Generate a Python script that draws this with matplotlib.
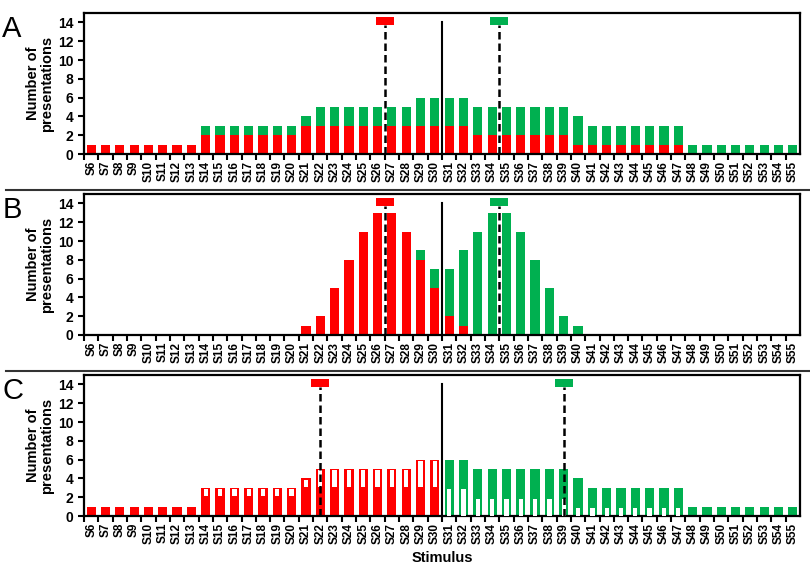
import matplotlib
matplotlib.use('Agg')
import matplotlib.pyplot as plt
from matplotlib.lines import Line2D
from matplotlib.ticker import FixedLocator

plt.rcParams['font.family'] = ['Liberation Sans', 'DejaVu Sans']

# stimulus numbers S6..S55
stimuli = list(range(6, 56))
labels = ['S%d' % s for s in stimuli]

# panel A: red (lower) and green (upper) counts per stimulus
a_red = [1] * 8 + [2] * 7 + [3] * 12 + [2] * 7 + [1] * 8 + [0] * 8
a_green = [0] * 8 + [1] * 7 + [1] + [2] * 7 + [3] * 4 + [3] * 7 + [3] + [2] * 7 + [1] * 8

# panel B
b_red = [0] * 15 + [1, 2, 5, 8, 11, 13, 13, 11, 8, 5, 2, 1] + [0] * 23
b_green = [0] * 23 + [1, 2, 5, 8, 11, 13, 13, 11, 8, 5, 2, 1] + [0] * 15

# panel C uses same counts as A, colored by side of boundary
c_lower = a_red
c_upper = a_green

# dashed markers (red, green) and solid boundary
markers = {'A': (26.5, 34.5), 'B': (26.5, 34.5), 'C': (22, 39)}
boundary = 30.5

RED = '#FF0000'
GREEN = '#00B050'
W = 0.64

fig = plt.figure(figsize=(8.1, 5.68), dpi=100)
left = 84 / 810
width = 716 / 810
bottoms = [1 - 154 / 568, 1 - 335 / 568, 1 - 516 / 568]
height = 141 / 568

axes = []
for i, name in enumerate(['A', 'B', 'C']):
    ax = fig.add_axes([left, bottoms[i], width, height])
    axes.append(ax)
    if name == 'A':
        ax.bar(stimuli, a_red, width=W, color=RED, zorder=2)
        ax.bar(stimuli, a_green, width=W, bottom=a_red, color=GREEN, zorder=2)
    elif name == 'B':
        ax.bar(stimuli, b_red, width=W, color=RED, zorder=2)
        ax.bar(stimuli, b_green, width=W, bottom=b_red, color=GREEN, zorder=2)
    else:
        for s, lo, up in zip(stimuli, c_lower, c_upper):
            if s <= 30:
                ax.bar(s, lo + up, width=W, color=RED, zorder=2)
                if up > 0:
                    ax.bar(s, up - 0.2, width=0.3, bottom=lo + 0.08,
                           color='white', zorder=3)
            else:
                ax.bar(s, lo + up, width=W, color=GREEN, zorder=2)
                if lo > 0:
                    ax.bar(s, lo - 0.17, width=0.3, bottom=0,
                           color='white', zorder=3)

    rx, gx = markers[name]
    ax.plot([boundary, boundary], [0, 14], color='black', lw=1.5, zorder=4)
    for mx, col in [(rx, RED), (gx, GREEN)]:
        ax.plot([mx, mx], [0, 13.7], color='black', lw=1.8, ls=(0, (3, 1.6)), zorder=4)
        ax.bar(mx, 0.9, width=1.25, bottom=13.7, color=col, zorder=5)

    ax.set_xlim(5.5, 55.5)
    ax.set_ylim(0, 15)
    ax.set_yticks(range(0, 15, 2))
    ax.set_xticks(stimuli)
    ax.set_xticklabels(labels, rotation=90, fontsize=8.5, fontweight='bold')
    ax.xaxis.set_minor_locator(FixedLocator([s + 0.5 for s in range(5, 55)]))
    ax.tick_params(axis='x', which='major', length=0, pad=5)
    ax.tick_params(axis='x', which='minor', length=4, width=1.5, direction='out')
    ax.tick_params(axis='y', length=4, width=1.5, direction='out', labelsize=10)
    for lab in ax.get_yticklabels():
        lab.set_fontweight('bold')
    for sp in ax.spines.values():
        sp.set_linewidth(1.6)
    ax.set_ylabel('Number of\npresentations', fontsize=10.5, fontweight='bold',
                  linespacing=0.95, labelpad=3)
    fig.text(0.003, bottoms[i] + height - 0.003, name, fontsize=21, va='top', ha='left')

axes[2].set_xlabel('Stimulus', fontsize=10.5, fontweight='bold', labelpad=5)

# separators between panels
for yy in [1 - 190 / 568, 1 - 371 / 568]:
    fig.add_artist(Line2D([0.008, 1.0], [yy, yy], color='#333333', lw=1.5,
                          transform=fig.transFigure))

fig.savefig('out.png', dpi=100)
